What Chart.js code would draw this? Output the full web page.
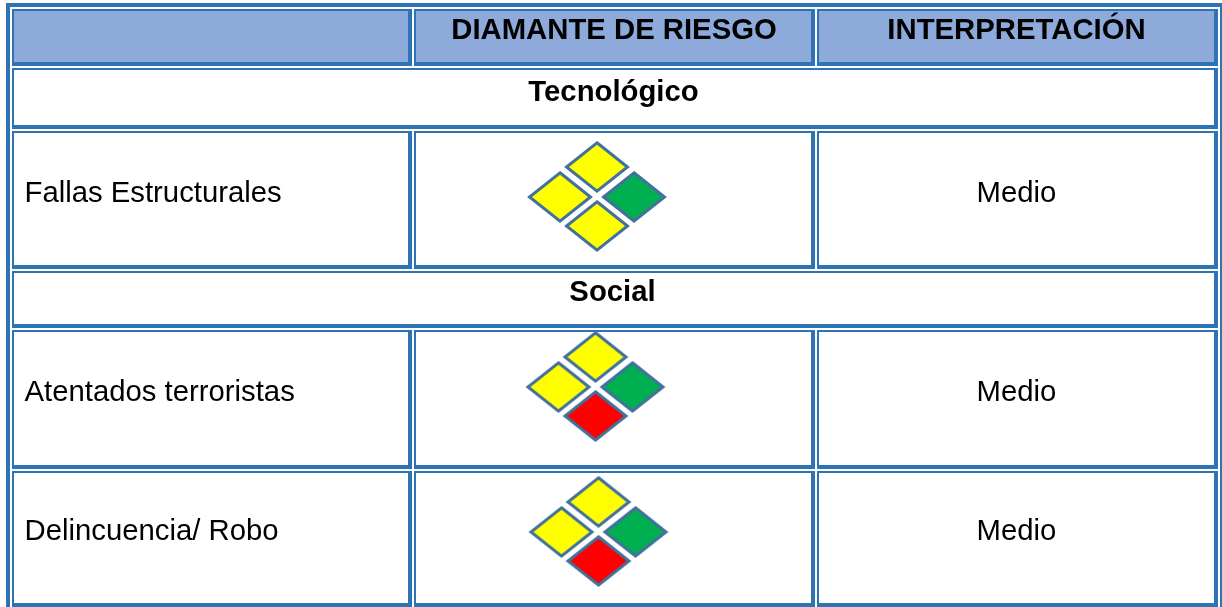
<!DOCTYPE html>
<html lang="es">
<head>
<meta charset="utf-8">
<style>html,body{margin:0;padding:0;background:#fff}canvas{display:block}</style>
<script src="https://cdn.jsdelivr.net/npm/chart.js@4"></script>
</head>
<body>
<canvas id="c" width="1222" height="607"></canvas>
<script>
// Content
const headers = ['', 'DIAMANTE DE RIESGO', 'INTERPRETACIÓN'];
const sections = ['Tecnológico', 'Social'];
const risks = ['Fallas Estructurales', 'Atentados terroristas', 'Delincuencia/ Robo'];
const levels = ['Medio', 'Medio', 'Medio'];
// Diamond quadrant colour names: top, left, right, bottom
const quadrants = ['top', 'left', 'right', 'bottom'];
const riskFallas = ['yellow', 'yellow', 'green', 'yellow'];
const riskAtentados = ['yellow', 'yellow', 'green', 'red'];
const riskDelincuencia = ['yellow', 'yellow', 'green', 'red'];
// Table layout in scale units
const colEdges = [[12, 412], [414, 815], [817, 1218]];
const rowEdges = [[9, 66], [68, 129], [131, 269], [271, 328], [330, 469], [471, 607]];
const riskCentres = [[597, 197], [595.5, 387], [598.5, 532]];
const riskBaselines = [202, 400.5, 540];
const quadOffsets = [[0, -30], [-37, 0], [37, 0], [0, 29]];

const palette = {yellow: '#FFFF00', green: '#00B050', red: '#FF0000'};
const lineBlue = '#2E74B5', headFill = '#8EAADB', diamondEdge = '#41719C', ink = '#000000';
const font = 'Liberation Sans, Arial, sans-serif';

function diamondImage(fill) {
  const w = 68, h = 56, hw = 30.5, hh = 24.2, cv = document.createElement('canvas');
  cv.width = w; cv.height = h;
  const g = cv.getContext('2d');
  g.beginPath();
  g.moveTo(w / 2, h / 2 - hh); g.lineTo(w / 2 + hw, h / 2); g.lineTo(w / 2, h / 2 + hh); g.lineTo(w / 2 - hw, h / 2); g.closePath();
  g.fillStyle = fill; g.fill();
  g.lineWidth = 3; g.strokeStyle = diamondEdge; g.lineJoin = 'miter'; g.stroke();
  return cv;
}
const images = Object.fromEntries(Object.entries(palette).map(([k, v]) => [k, diamondImage(v)]));

const points = [], styles = [];
[riskFallas, riskAtentados, riskDelincuencia].forEach((row, r) => {
  row.forEach((colour, q) => {
    points.push({x: riskCentres[r][0] + quadOffsets[q][0], y: riskCentres[r][1] + quadOffsets[q][1]});
    styles.push(images[colour]);
  });
});

const tablePlugin = {
  id: 'table',
  beforeDatasetsDraw(chart) {
    const {ctx, scales: {x, y}} = chart;
    const X = v => x.getPixelForValue(v), Y = v => y.getPixelForValue(v);
    const cell = (x0, y0, x1, y1, fill, top) => {
      ctx.fillStyle = lineBlue;
      ctx.fillRect(X(x0), Y(y0), X(x1) - X(x0), Y(y1) - Y(y0));
      ctx.fillStyle = fill;
      ctx.fillRect(X(x0 + 2), Y(y0 + top), X(x1 - 4) - X(x0 + 2), Y(y1 - 4) - Y(y0 + top));
    };
    ctx.save();
    ctx.fillStyle = '#fff'; ctx.fillRect(X(0), Y(0), X(1222) - X(0), Y(607) - Y(0));
    // outer frame
    ctx.fillStyle = lineBlue;
    ctx.fillRect(X(6), Y(3), X(1222) - X(6), Y(7) - Y(3));
    ctx.fillRect(X(6), Y(3), X(10) - X(6), Y(607) - Y(3));
    ctx.fillRect(X(1220), Y(3), X(1222) - X(1220), Y(607) - Y(3));
    const L = colEdges[0][0], R = colEdges[2][1];
    rowEdges.forEach((row, r) => {
      if (r === 1 || r === 3) cell(L, row[0], R, row[1], '#fff', 2);
      else colEdges.forEach(col => cell(col[0], row[0], col[1], row[1], r === 0 ? headFill : '#fff', 2));
    });
    // text
    ctx.fillStyle = ink;
    ctx.textBaseline = 'alphabetic';
    ctx.font = 'bold 29.3px ' + font;
    ctx.textAlign = 'center';
    ctx.fillText(headers[1], X(614), Y(38.5));
    ctx.fillText(headers[2], X(1016.5), Y(38.5));
    ctx.fillText(sections[0], X(613.5), Y(100.5));
    ctx.fillText(sections[1], X(612.5), Y(300.5));
    ctx.font = '29.3px ' + font;
    riskBaselines.forEach((base, i) => {
      ctx.textAlign = 'left';
      ctx.fillText(risks[i], X(24.5), Y(base));
      ctx.textAlign = 'center';
      ctx.fillText(levels[i], X(1016.5), Y(base));
    });
    ctx.restore();
  }
};

new Chart(document.getElementById('c'), {
  type: 'scatter',
  data: {datasets: [{label: 'Diamante de riesgo', data: points, pointStyle: styles, showLine: false, clip: false}]},
  options: {
    responsive: false, animation: false, events: [],
    layout: {padding: 0, autoPadding: false},
    plugins: {legend: {display: false}, tooltip: {enabled: false}, title: {display: false}},
    scales: {
      x: {type: 'linear', min: 0, max: 1222, display: false},
      y: {type: 'linear', min: 0, max: 607, reverse: true, display: false}
    }
  },
  plugins: [tablePlugin]
});
</script>
</body>
</html>
